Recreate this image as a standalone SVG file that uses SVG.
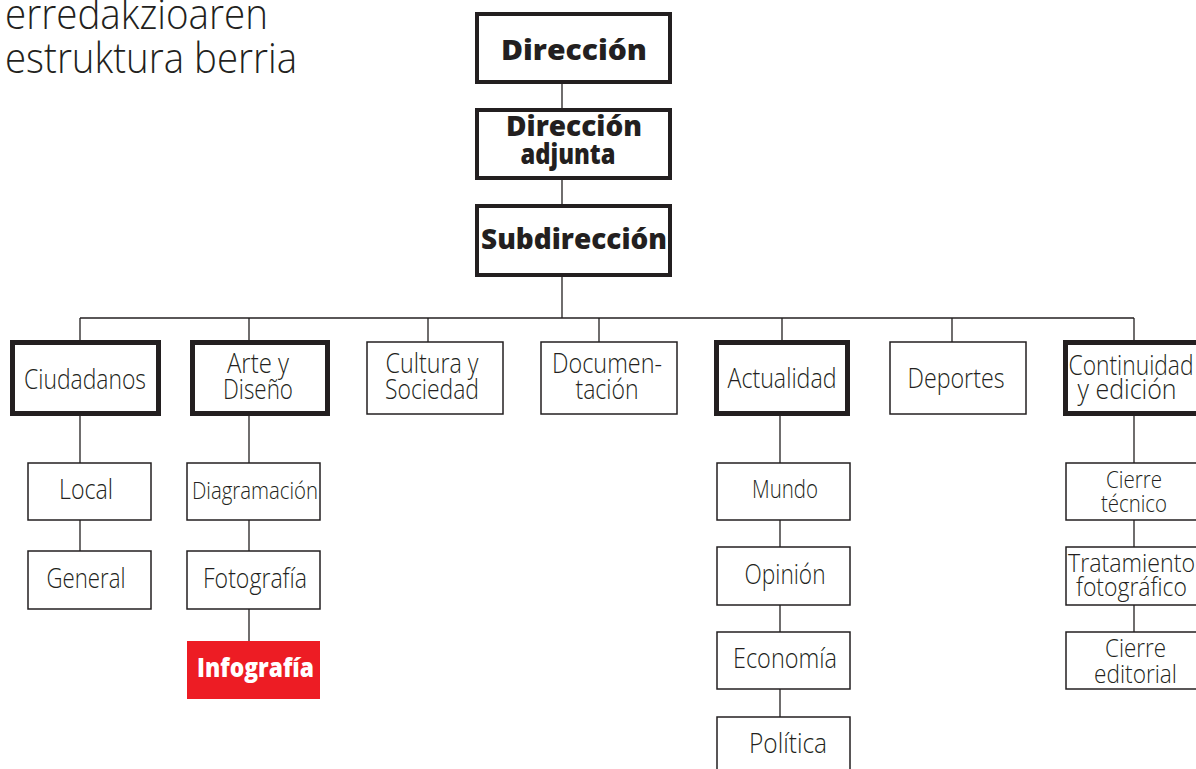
<svg xmlns="http://www.w3.org/2000/svg" width="1196" height="769" viewBox="0 0 1196 769">
<style>
.bg{fill:#ffffff}
.thick{fill:#fff;stroke:#231f20;stroke-width:5}
.top{fill:#fff;stroke:#231f20;stroke-width:4}
.thin{fill:#fff;stroke:#231f20;stroke-width:1.5}
.red{fill:#ed1c24}
.t{font-family:"Open Sans","Liberation Sans",sans-serif;font-weight:300;fill:#231f20;text-anchor:middle}
.b{font-family:"Open Sans","Liberation Sans",sans-serif;font-weight:800;fill:#231f20;text-anchor:middle}
.title{font-family:"Open Sans","Liberation Sans",sans-serif;font-weight:300;fill:#231f20;font-size:42px}
.conn line{stroke:#231f20;stroke-width:1.3}
</style>
<rect class="bg" x="0" y="0" width="1196" height="769"/>
<g id="title">
<text class="title" x="5" y="29" textLength="263" lengthAdjust="spacingAndGlyphs">erredakzioaren</text>
<text class="title" x="5" y="73" textLength="292" lengthAdjust="spacingAndGlyphs">estruktura berria</text>
</g>
<g id="connectors" class="conn">
<line x1="562" y1="84" x2="562" y2="108"/>
<line x1="562" y1="180" x2="562" y2="204"/>
<line x1="562" y1="277" x2="562" y2="318"/>
<line x1="80" y1="318" x2="1134" y2="318"/>
<line x1="80" y1="318" x2="80" y2="340"/>
<line x1="249" y1="318" x2="249" y2="340"/>
<line x1="428" y1="318" x2="428" y2="342"/>
<line x1="599" y1="318" x2="599" y2="342"/>
<line x1="782" y1="318" x2="782" y2="340"/>
<line x1="952" y1="318" x2="952" y2="342"/>
<line x1="1134" y1="318" x2="1134" y2="340"/>
<line x1="80" y1="416" x2="80" y2="463"/>
<line x1="80" y1="520" x2="80" y2="551"/>
<line x1="249" y1="416" x2="249" y2="463"/>
<line x1="249" y1="520" x2="249" y2="551"/>
<line x1="249" y1="609" x2="249" y2="641"/>
<line x1="780" y1="416" x2="780" y2="463"/>
<line x1="780" y1="520" x2="780" y2="547"/>
<line x1="780" y1="605" x2="780" y2="632"/>
<line x1="780" y1="689" x2="780" y2="717"/>
<line x1="1134" y1="416" x2="1134" y2="463"/>
<line x1="1134" y1="520" x2="1134" y2="547"/>
<line x1="1134" y1="605" x2="1134" y2="632"/>
</g>
<g id="direccion">
<rect class="top" x="477" y="14" width="193" height="68"/>
<text class="b" x="574" y="60" font-size="28" textLength="146" lengthAdjust="spacingAndGlyphs">Dirección</text>
</g>
<g id="direccion-adjunta">
<rect class="top" x="477" y="110" width="193" height="68"/>
<text class="b" x="574" y="136" font-size="28" textLength="136" lengthAdjust="spacingAndGlyphs">Dirección</text>
<text class="b" x="568" y="164" font-size="28" textLength="95" lengthAdjust="spacingAndGlyphs">adjunta</text>
</g>
<g id="subdireccion">
<rect class="top" x="477" y="206" width="193" height="69"/>
<text class="b" x="574" y="249" font-size="28" textLength="186" lengthAdjust="spacingAndGlyphs">Subdirección</text>
</g>
<g id="ciudadanos">
<rect class="thick" x="12.5" y="342.5" width="146" height="71"/>
<text class="t" x="85" y="389" font-size="28" textLength="122" lengthAdjust="spacingAndGlyphs">Ciudadanos</text>
</g>
<g id="arte">
<rect class="thick" x="192.5" y="342.5" width="135" height="71"/>
<text class="t" x="258" y="373" font-size="28" textLength="62" lengthAdjust="spacingAndGlyphs">Arte y</text>
<text class="t" x="258" y="399" font-size="28" textLength="70" lengthAdjust="spacingAndGlyphs">Diseño</text>
</g>
<g id="cultura">
<rect class="thin" x="367" y="342" width="136" height="72"/>
<text class="t" x="432" y="373" font-size="28" textLength="93" lengthAdjust="spacingAndGlyphs">Cultura y</text>
<text class="t" x="432" y="399" font-size="28" textLength="94" lengthAdjust="spacingAndGlyphs">Sociedad</text>
</g>
<g id="documentacion">
<rect class="thin" x="541" y="342" width="136" height="72"/>
<text class="t" x="607" y="373" font-size="28" textLength="110" lengthAdjust="spacingAndGlyphs">Documen-</text>
<text class="t" x="607" y="399" font-size="28" textLength="63" lengthAdjust="spacingAndGlyphs">tación</text>
</g>
<g id="actualidad">
<rect class="thick" x="716.5" y="342.5" width="131" height="71"/>
<text class="t" x="782" y="388" font-size="28" textLength="109" lengthAdjust="spacingAndGlyphs">Actualidad</text>
</g>
<g id="deportes">
<rect class="thin" x="890" y="342" width="136" height="72"/>
<text class="t" x="956" y="388" font-size="28" textLength="97" lengthAdjust="spacingAndGlyphs">Deportes</text>
</g>
<g id="continuidad">
<rect class="thick" x="1065.5" y="342.5" width="137" height="71"/>
<text class="t" x="1131" y="375" font-size="28" textLength="125" lengthAdjust="spacingAndGlyphs">Continuidad</text>
<text class="t" x="1127" y="399" font-size="28" textLength="99" lengthAdjust="spacingAndGlyphs">y edición</text>
</g>
<g id="local">
<rect class="thin" x="28" y="463" width="123" height="57"/>
<text class="t" x="86" y="499" font-size="28" textLength="54" lengthAdjust="spacingAndGlyphs">Local</text>
</g>
<g id="general">
<rect class="thin" x="28" y="551" width="123" height="58"/>
<text class="t" x="86" y="588" font-size="28" textLength="79" lengthAdjust="spacingAndGlyphs">General</text>
</g>
<g id="diagramacion">
<rect class="thin" x="187" y="463" width="133" height="57"/>
<text class="t" x="255" y="499" font-size="23" textLength="126" lengthAdjust="spacingAndGlyphs">Diagramación</text>
</g>
<g id="fotografia">
<rect class="thin" x="187" y="551" width="133" height="58"/>
<text class="t" x="255" y="588" font-size="28" textLength="104" lengthAdjust="spacingAndGlyphs">Fotografía</text>
</g>
<g id="infografia">
<rect class="red" x="187" y="641" width="133" height="58"/>
<text class="b" x="255.5" y="677" font-size="27" style="fill:#ffffff" textLength="117" lengthAdjust="spacingAndGlyphs">Infografía</text>
</g>
<g id="mundo">
<rect class="thin" x="717" y="463" width="133" height="57"/>
<text class="t" x="785" y="498" font-size="25" textLength="66" lengthAdjust="spacingAndGlyphs">Mundo</text>
</g>
<g id="opinion">
<rect class="thin" x="717" y="547" width="133" height="58"/>
<text class="t" x="785" y="584" font-size="28" textLength="81" lengthAdjust="spacingAndGlyphs">Opinión</text>
</g>
<g id="economia">
<rect class="thin" x="717" y="632" width="133" height="57"/>
<text class="t" x="785" y="668" font-size="28" textLength="104" lengthAdjust="spacingAndGlyphs">Economía</text>
</g>
<g id="politica">
<rect class="thin" x="717" y="717" width="133" height="60"/>
<text class="t" x="788" y="753" font-size="28" textLength="78" lengthAdjust="spacingAndGlyphs">Política</text>
</g>
<g id="cierre-tecnico">
<rect class="thin" x="1066" y="463" width="136" height="57"/>
<text class="t" x="1134" y="488" font-size="23" textLength="56" lengthAdjust="spacingAndGlyphs">Cierre</text>
<text class="t" x="1134" y="512" font-size="23" textLength="66" lengthAdjust="spacingAndGlyphs">técnico</text>
</g>
<g id="tratamiento">
<rect class="thin" x="1066" y="547" width="136" height="58"/>
<text class="t" x="1131.5" y="572" font-size="26" textLength="127" lengthAdjust="spacingAndGlyphs">Tratamiento</text>
<text class="t" x="1131.5" y="596" font-size="26" textLength="111" lengthAdjust="spacingAndGlyphs">fotográfico</text>
</g>
<g id="cierre-editorial">
<rect class="thin" x="1066" y="632" width="136" height="57"/>
<text class="t" x="1135.5" y="657" font-size="26" textLength="61" lengthAdjust="spacingAndGlyphs">Cierre</text>
<text class="t" x="1135.5" y="683" font-size="26" textLength="83" lengthAdjust="spacingAndGlyphs">editorial</text>
</g>
</svg>
